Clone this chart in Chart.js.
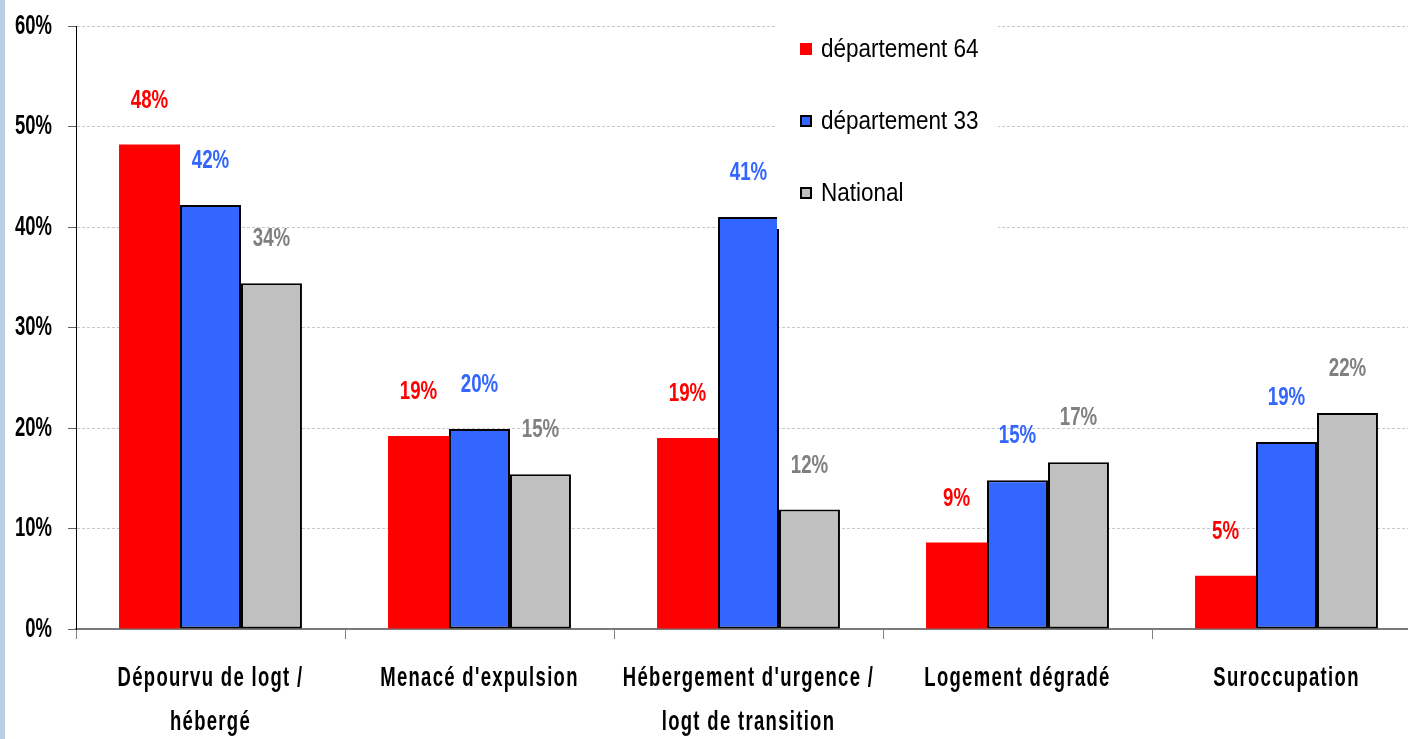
<!DOCTYPE html>
<html lang="fr">
<head>
<meta charset="utf-8">
<title>Motifs de recours</title>
<script src="https://cdn.jsdelivr.net/npm/chart.js@4/dist/chart.umd.min.js"></script>
<style>
  html, body { margin: 0; padding: 0; background: #fff; overflow: hidden; }
  #wrap { position: absolute; left: 0; top: 0; width: 1421px; height: 739px; }
  #edge { position: absolute; left: 0; top: 0; width: 5px; height: 739px; background: #b9cde5; z-index: 2; }
</style>
</head>
<body>
<div id="edge"></div>
<div id="wrap"><canvas id="motifsChart"></canvas></div>
<script>
// Categories (multi-line labels)
const categories = [
  ['Dépourvu de logt /', 'hébergé'],
  ["Menacé d'expulsion"],
  ["Hébergement d'urgence /", 'logt de transition'],
  ['Logement dégradé'],
  ['Suroccupation']
];

// Series values, in %
const dep64 = [48.2, 19.2, 19.0, 8.6, 5.3];
const dep33 = [42.2, 19.9, 41.0, 14.8, 18.6];
const national = [34.4, 15.4, 11.9, 16.6, 21.5];

const seriesNames = ['département 64', 'département 33', 'National'];

const yTicks = [0, 10, 20, 30, 40, 50, 60];

const SANS = "'Liberation Sans', Arial, sans-serif";

const COLORS = {
  red: '#ff0000',
  blue: '#3366ff',
  gray: '#c0c0c0',
  grayText: '#808080'
};

// Horizontally squeezed text (narrow look of the labels)
function condenseText(ctx) {
  if (ctx._condensed) return;
  const fill = ctx.fillText;
  ctx.textScaleX = 1;
  ctx.fillText = function (text, x, y, maxWidth) {
    const sx = this.textScaleX;
    this.save();
    this.translate(x, y);
    this.scale(sx, 1);
    if (maxWidth === undefined) fill.call(this, text, 0, 0);
    else fill.call(this, text, 0, 0, maxWidth / sx);
    this.restore();
  };
  ctx._condensed = true;
}

const condensed = {
  id: 'condensed',
  beforeDraw(chart) {
    condenseText(chart.ctx);
    chart.ctx.textScaleX = 0.66;
  },
  afterDraw(chart) {
    chart.ctx.textScaleX = 1;
  }
};

// Category labels under the x axis, two lines max
const categoryLabels = {
  id: 'categoryLabels',
  afterDraw(chart) {
    const ctx = chart.ctx;
    const xs = chart.scales.x;
    ctx.save();
    ctx.textScaleX = 0.66;
    ctx.font = 'bold 28px ' + SANS;
    ctx.letterSpacing = '2px';
    ctx.fillStyle = '#000';
    ctx.textAlign = 'center';
    ctx.textBaseline = 'middle';
    categories.forEach((lines, i) => {
      const x = xs.getPixelForTick(i);
      lines.forEach((line, k) => {
        ctx.fillText(line, x, xs.top + 49 + k * 44);
      });
    });
    ctx.restore();
    ctx.textScaleX = 1;
  }
};

// Value labels above each bar
const valueLabels = {
  id: 'valueLabels',
  afterDatasetsDraw(chart) {
    const ctx = chart.ctx;
    ctx.save();
    ctx.textScaleX = 0.72;
    ctx.font = 'bold 26px ' + SANS;
    ctx.textAlign = 'center';
    ctx.textBaseline = 'middle';
    chart.data.datasets.forEach((ds, i) => {
      const meta = chart.getDatasetMeta(i);
      ctx.fillStyle = ds.labelColor;
      meta.data.forEach((bar, j) => {
        ctx.fillText(Math.round(ds.data[j]) + '%', bar.x, bar.y - 44);
      });
    });
    ctx.restore();
  }
};

// Legend on a white box over the grid
const boxLegend = {
  id: 'boxLegend',
  afterDraw(chart) {
    const ctx = chart.ctx;
    ctx.save();
    ctx.fillStyle = '#fff';
    ctx.fillRect(777, 8, 221, 221);
    ctx.textScaleX = 0.9;
    ctx.font = '25px ' + SANS;
    ctx.textBaseline = 'middle';
    ctx.textAlign = 'left';
    chart.data.datasets.forEach((ds, i) => {
      const cy = 49 + i * 72;
      ctx.fillStyle = ds.backgroundColor;
      ctx.fillRect(800, cy - 6, 12, 12);
      if (ds.borderWidth) {
        ctx.strokeStyle = '#000';
        ctx.lineWidth = 2;
        ctx.strokeRect(801, cy - 5, 10, 10);
      }
      ctx.fillStyle = '#000';
      ctx.fillText(ds.label, 821, cy + 1);
    });
    ctx.restore();
    ctx.textScaleX = 1;
  }
};

const ctx = document.getElementById('motifsChart').getContext('2d');

new Chart(ctx, {
  type: 'bar',
  data: {
    labels: categories,
    datasets: [
      {
        label: seriesNames[0],
        data: dep64,
        backgroundColor: COLORS.red,
        borderWidth: 0,
        labelColor: COLORS.red
      },
      {
        label: seriesNames[1],
        data: dep33,
        backgroundColor: COLORS.blue,
        borderColor: '#000',
        borderWidth: 2,
        borderSkipped: false,
        labelColor: COLORS.blue
      },
      {
        label: seriesNames[2],
        data: national,
        backgroundColor: COLORS.gray,
        borderColor: '#000',
        borderWidth: 2,
        borderSkipped: false,
        labelColor: COLORS.grayText
      }
    ]
  },
  options: {
    responsive: true,
    maintainAspectRatio: false,
    animation: false,
    layout: { padding: { top: 26, right: 0, bottom: 0, left: 0 } },
    datasets: {
      bar: { categoryPercentage: 0.68, barPercentage: 1 }
    },
    plugins: {
      legend: { display: false },
      tooltip: { enabled: false }
    },
    scales: {
      x: {
        afterFit(scale) { scale.height = 110; },
        grid: {
          display: true,
          offset: true,
          drawOnChartArea: false,
          tickLength: 10,
          color: '#808080',
          lineWidth: 1
        },
        border: { display: true, color: '#7a7a7a', width: 2 },
        ticks: { display: false }
      },
      y: {
        min: 0,
        max: 60,
        afterFit(scale) { scale.width = 76; },
        afterBuildTicks(scale) { scale.ticks = yTicks.map(v => ({ value: v })); },
        grid: {
          color: '#c8c8c8',
          lineWidth: 1,
          tickLength: 8,
          tickColor: '#606060',
          tickBorderDash: []
        },
        border: { display: true, color: '#000', width: 1, dash: [3, 2] },
        ticks: {
          padding: 16,
          color: '#000',
          font: { family: SANS, size: 28, weight: 'bold', lineHeight: 0.7 },
          callback: v => v + '%'
        }
      }
    }
  },
  plugins: [condensed, valueLabels, categoryLabels, boxLegend]
});
</script>
</body>
</html>
